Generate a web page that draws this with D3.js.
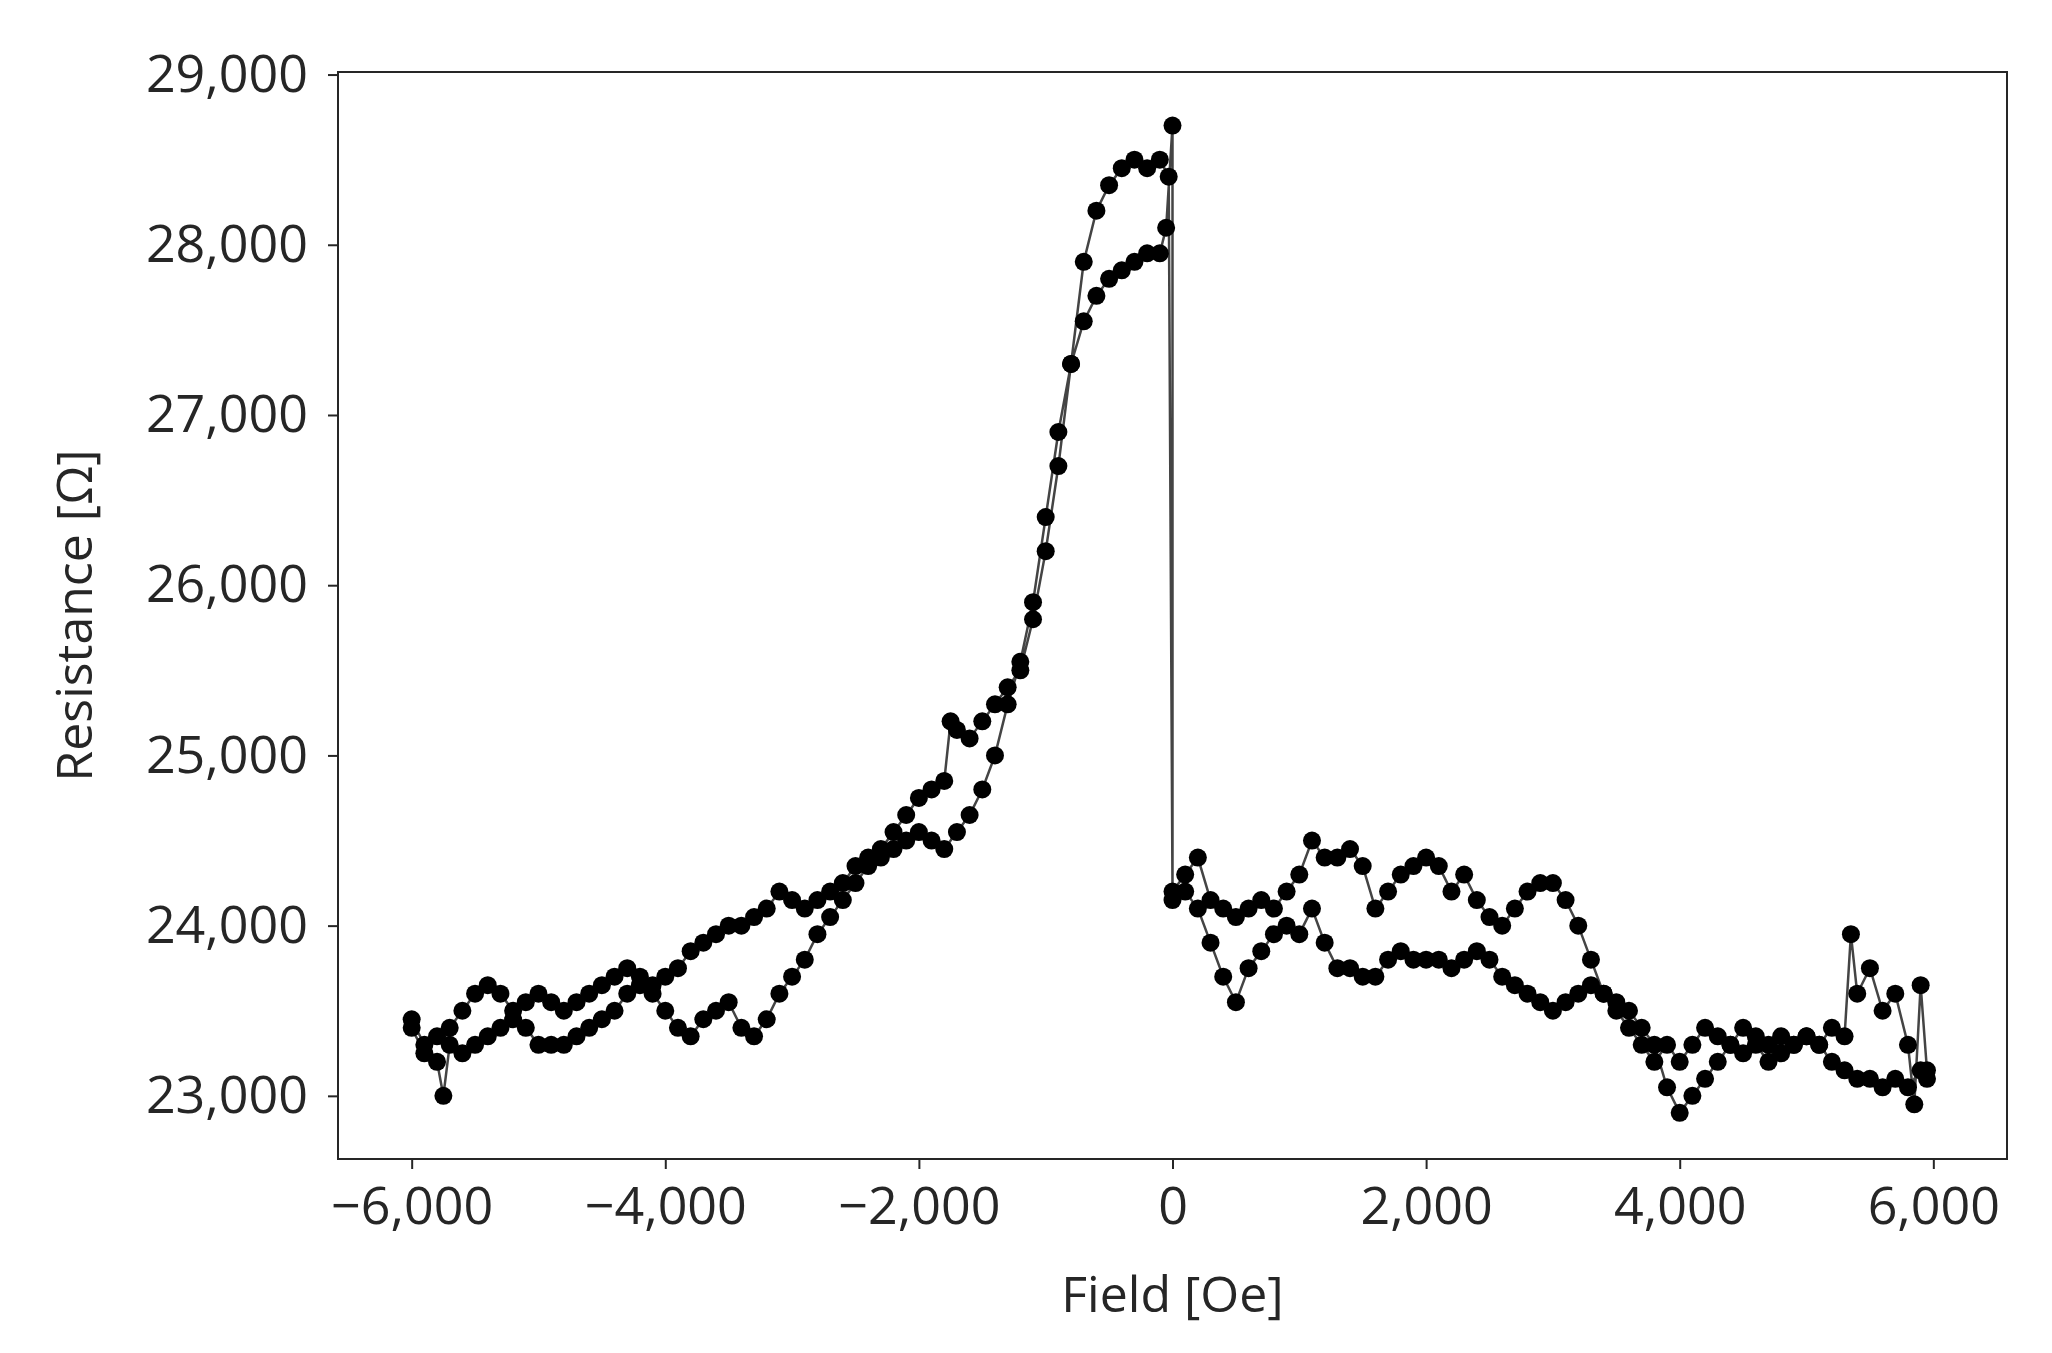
<!DOCTYPE html>
<html><head><meta charset="utf-8">
<script src="https://cdn.jsdelivr.net/npm/d3@7"></script>
<style>body{margin:0;background:#fff}text{font-family:"Open Sans",sans-serif;fill:#262626}</style>
</head><body><div id="demo"></div>
<script>
// field [Oe], resistance [Ohm]
let leftUpper = [[-6000,23450],[-5900,23300],[-5800,23350],[-5700,23400],[-5600,23500],[-5500,23600],[-5400,23650],[-5300,23600],[-5200,23500],[-5100,23550],[-5000,23600],[-4900,23550],[-4800,23500],[-4700,23550],[-4600,23600],[-4500,23650],[-4400,23700],[-4300,23750],[-4200,23700],[-4100,23650],[-4000,23700],[-3900,23750],[-3800,23850],[-3700,23900],[-3600,23950],[-3500,24000],[-3400,24000],[-3300,24050],[-3200,24100],[-3100,24200],[-3000,24150],[-2900,24100],[-2800,24150],[-2700,24200],[-2600,24250],[-2500,24350],[-2400,24400],[-2300,24450],[-2200,24550],[-2100,24650],[-2000,24750],[-1900,24800],[-1800,24850],[-1750,25200],[-1700,25150],[-1600,25100],[-1500,25200],[-1400,25300],[-1300,25400],[-1200,25500],[-1100,25800],[-1000,26200],[-900,26700],[-800,27300],[-700,27900],[-600,28200],[-500,28350],[-400,28450],[-300,28500],[-200,28450],[-100,28500],[-30,28400]];
let leftLower = [[-6000,23400],[-5900,23250],[-5800,23200],[-5750,23000],[-5700,23300],[-5600,23250],[-5500,23300],[-5400,23350],[-5300,23400],[-5200,23450],[-5100,23400],[-5000,23300],[-4900,23300],[-4800,23300],[-4700,23350],[-4600,23400],[-4500,23450],[-4400,23500],[-4300,23600],[-4200,23650],[-4100,23600],[-4000,23500],[-3900,23400],[-3800,23350],[-3700,23450],[-3600,23500],[-3500,23550],[-3400,23400],[-3300,23350],[-3200,23450],[-3100,23600],[-3000,23700],[-2900,23800],[-2800,23950],[-2700,24050],[-2600,24150],[-2500,24250],[-2400,24350],[-2300,24400],[-2200,24450],[-2100,24500],[-2000,24550],[-1900,24500],[-1800,24450],[-1700,24550],[-1600,24650],[-1500,24800],[-1400,25000],[-1300,25300],[-1200,25550],[-1100,25900],[-1000,26400],[-900,26900],[-800,27300],[-700,27550],[-600,27700],[-500,27800],[-400,27850],[-300,27900],[-200,27950],[-100,27950],[-50,28100],[0,28700]];
let rightLower = [[0,24150],[100,24200],[200,24100],[300,23900],[400,23700],[500,23550],[600,23750],[700,23850],[800,23950],[900,24000],[1000,23950],[1100,24100],[1200,23900],[1300,23750],[1400,23750],[1500,23700],[1600,23700],[1700,23800],[1800,23850],[1900,23800],[2000,23800],[2100,23800],[2200,23750],[2300,23800],[2400,23850],[2500,23800],[2600,23700],[2700,23650],[2800,23600],[2900,23550],[3000,23500],[3100,23550],[3200,23600],[3300,23650],[3400,23600],[3500,23550],[3600,23500],[3700,23400],[3800,23300],[3900,23050],[4000,22900],[4100,23000],[4200,23100],[4300,23200],[4400,23300],[4500,23400],[4600,23300],[4700,23200],[4800,23350],[4900,23300],[5000,23350],[5100,23300],[5200,23400],[5300,23350],[5350,23950],[5400,23600],[5500,23750],[5600,23500],[5700,23600],[5800,23300],[5850,22950],[5900,23650],[5950,23150]];
let rightUpper = [[0,24200],[100,24300],[200,24400],[300,24150],[400,24100],[500,24050],[600,24100],[700,24150],[800,24100],[900,24200],[1000,24300],[1100,24500],[1200,24400],[1300,24400],[1400,24450],[1500,24350],[1600,24100],[1700,24200],[1800,24300],[1900,24350],[2000,24400],[2100,24350],[2200,24200],[2300,24300],[2400,24150],[2500,24050],[2600,24000],[2700,24100],[2800,24200],[2900,24250],[3000,24250],[3100,24150],[3200,24000],[3300,23800],[3400,23600],[3500,23500],[3600,23400],[3700,23300],[3800,23200],[3900,23300],[4000,23200],[4100,23300],[4200,23400],[4300,23350],[4400,23300],[4500,23250],[4600,23350],[4700,23300],[4800,23250],[4900,23300],[5000,23350],[5100,23300],[5200,23200],[5300,23150],[5400,23100],[5500,23100],[5600,23050],[5700,23100],[5800,23050],[5900,23150],[5950,23100]];
let xTicks = [-6000,-4000,-2000,0,2000,4000,6000];
let yTicks = [23000,24000,25000,26000,27000,28000,29000];

// sweep order: up on the lower left branch, then right, then back
let sweep = leftLower.concat(rightLower, rightUpper.slice().reverse(), leftUpper.slice().reverse());

let W = 2052, H = 1353;
let m = {top: 72, right: 45, bottom: 194, left: 338};
let w = W - m.left - m.right, h = H - m.top - m.bottom;

let svg = d3.select("#demo").append("svg").attr("width", W).attr("height", H);
const g = svg.append("g").attr("transform", "translate(" + m.left + "," + m.top + ")");

let x = d3.scaleLinear().domain([-6581, 6581]).range([0, w]);
let y = d3.scaleLinear().domain([22629, 29015]).range([h, 0]);
let fmt = d => d3.format(",")(d).replace("-", "\u2212");

let xa = g.append("g").attr("transform", "translate(0," + h + ")")
    .call(d3.axisBottom(x).tickValues(xTicks).tickFormat(fmt).tickSize(10).tickPadding(18));
let ya = g.append("g").call(d3.axisLeft(y).tickValues(yTicks).tickFormat(fmt).tickSize(10).tickPadding(20));
[xa, ya].forEach(a => {
    a.select(".domain").remove();
    a.selectAll("text").attr("font-size", 52).attr("font-family", "Open Sans");
    a.selectAll("line").attr("stroke", "#262626").attr("stroke-width", 2);
});

g.append("path").datum(sweep)
    .attr("fill", "none").attr("stroke", "#444").attr("stroke-width", 2.5)
    .attr("d", d3.line().x(d => x(d[0])).y(d => y(d[1])));
g.selectAll("circle").data(sweep).enter().append("circle")
    .attr("cx", d => x(d[0])).attr("cy", d => y(d[1])).attr("r", 9).attr("fill", "#000");

g.append("rect").attr("width", w).attr("height", h).attr("fill", "none").attr("stroke", "#262626").attr("stroke-width", 2);

svg.append("text").attr("x", m.left + w / 2).attr("y", 1312).attr("text-anchor", "middle")
    .attr("font-size", 50).text("Field [Oe]");
svg.append("text").attr("transform", "translate(92," + (m.top + h / 2) + ") rotate(-90)")
    .attr("text-anchor", "middle").attr("font-size", 50).text("Resistance [\u03A9]");
</script></body></html>
